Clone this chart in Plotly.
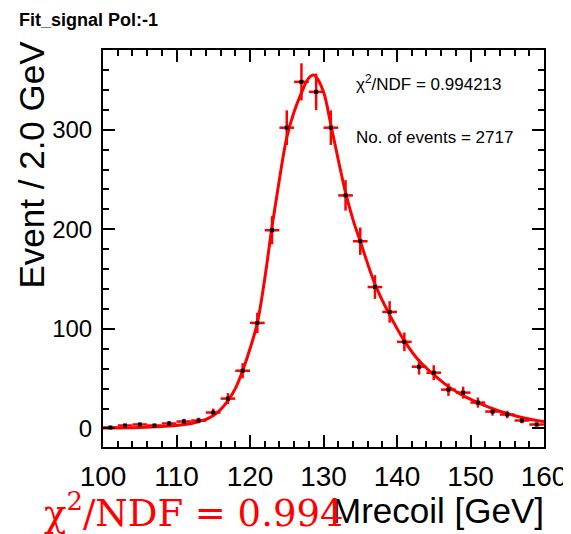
import numpy as np
import plotly.graph_objects as go

# histogram bins (2 GeV wide) and counts
bin_centers = [101, 103, 105, 107, 109, 111, 113, 115, 117, 119,
               121, 123, 125, 127, 129, 131, 133, 135, 137, 139,
               141, 143, 145, 147, 149, 151, 153, 155, 157, 159]
counts = [1, 3, 4, 3, 5, 7, 8, 16, 30, 58,
          106, 199, 302, 348, 338, 302, 234, 188, 142, 117,
          87, 62, 56, 39, 36, 26, 17, 14, 8, 4]

# fit curve
fit_x = [100, 105, 110, 112, 113, 114, 115, 116, 117, 118, 119, 120, 121,
         122, 123, 124, 125, 126, 127, 128, 128.6, 129, 130, 131, 132, 133,
         134, 135, 137, 139, 141, 143, 145, 147, 149, 151, 153, 155, 157,
         159, 160]
fit_y = [0.5, 1, 3, 5, 7, 9, 13, 19, 28, 40, 58, 80, 106,
         150, 203, 250, 292, 318, 337, 352, 355, 353, 338, 305, 270, 237,
         210, 188, 145, 114, 88, 68, 54, 42, 33, 26, 20, 15, 11,
         8, 7]

x_ticks = [100, 110, 120, 130, 140, 150, 160]
y_ticks = [0, 100, 200, 300]

errors = np.sqrt(counts)

# the page body adds an 8px margin, so lay things out 8px up/left
OFF = 8
W, H = 571, 534
L, R, T, B = 103 - OFF, W - (547 - OFF), 50 - OFF, H - (447 - OFF)


def px(x, y):
    # page pixel (reference) -> paper coords
    return ((x - OFF - L) / (W - L - R), (H - (y - OFF) - B) / (H - T - B))


fig = go.Figure()

# error bars (red crosses)
fig.add_trace(go.Scatter(
    x=bin_centers, y=counts, mode='markers',
    marker=dict(size=1, color='rgba(0,0,0,0)'),
    error_y=dict(type='data', array=errors, color='red', thickness=2.5, width=0),
    error_x=dict(type='constant', value=1, color='red', thickness=2.5, width=0),
    showlegend=False
))

# fit
fig.add_trace(go.Scatter(
    x=fit_x, y=fit_y, mode='lines',
    line=dict(color='red', width=3, shape='spline'),
    showlegend=False
))

# black points
fig.add_trace(go.Scatter(
    x=bin_centers, y=counts, mode='markers',
    marker=dict(size=4, color='black', symbol='square'),
    showlegend=False
))

common = dict(ticks='inside', ticklen=12, tickwidth=2, tickcolor='black',
              showline=True, linecolor='black', linewidth=2, mirror='allticks',
              showgrid=False, zeroline=False)

fig.update_layout(
    width=W, height=H,
    margin=dict(l=L, r=R, t=T, b=B),
    plot_bgcolor='white', paper_bgcolor='white',
    xaxis=dict(
        range=[100, 160], tickvals=x_ticks, ticklabelstandoff=3,
        tickfont=dict(family='Liberation Sans', size=28, color='black'),
        minor=dict(ticks='inside', dtick=2, ticklen=6, tickwidth=2, tickcolor='black', showgrid=False),
        **common
    ),
    yaxis=dict(
        range=[-18.6, 380], tickvals=y_ticks, ticklabelstandoff=4,
        tickfont=dict(family='Liberation Sans', size=24, color='black'),
        minor=dict(ticks='inside', dtick=20, ticklen=6, tickwidth=2, tickcolor='black', showgrid=False),
        **common
    ),
)

texts = [
    ('<b>Fit_signal Pol:-1</b>', 16, 20, 'left', 0, dict(family='Liberation Sans', size=18, color='black')),
    ('Event / 2.0 GeV', 31, 164, 'center', -90, dict(family='Liberation Sans', size=35, color='black')),
    ('Mrecoil [GeV]', 549, 510, 'right', 0, dict(family='Liberation Sans', size=35, color='black')),
    ('χ<sup>2</sup>/NDF = 0.994213', 356, 83, 'left', 0, dict(family='Liberation Sans', size=17, color='black')),
    ('No. of events = 2717', 356, 137, 'left', 0, dict(family='Liberation Sans', size=17, color='black')),
    ('χ<sup>2</sup>/NDF = 0.994', 42, 510, 'left', 0, dict(family='DejaVu Serif', size=37, color='red')),
]
for text, x, y, anchor, angle, font in texts:
    ax, ay = px(x, y)
    fig.add_annotation(text=text, x=ax, y=ay, xref='paper', yref='paper',
                       showarrow=False, xanchor=anchor, yanchor='middle',
                       textangle=angle, font=font)

fig.write_html("out.html")
